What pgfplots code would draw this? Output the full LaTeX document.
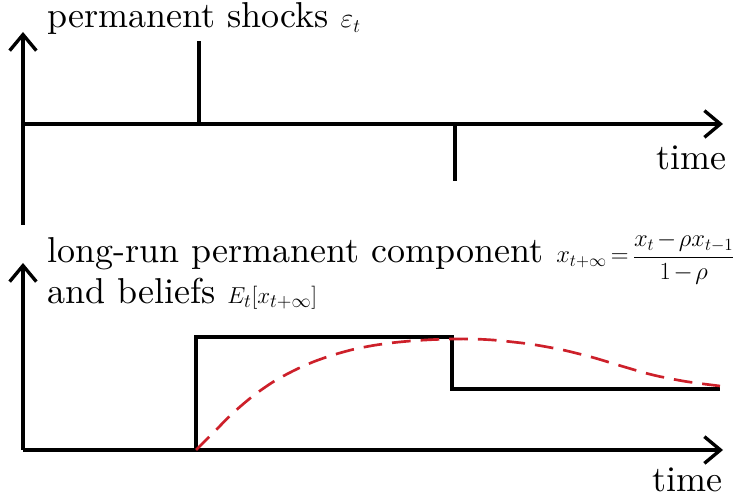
\documentclass[border=0pt]{standalone}
\usepackage{fontspec}
\setmainfont{lmroman10-regular.otf}[ItalicFont=lmroman10-italic.otf,BoldFont=lmroman10-bold.otf]
\usepackage{graphicx}
\usepackage{pgfplots}
\pgfplotsset{compat=1.18}
\usetikzlibrary{arrows.meta}
\definecolor{dred}{RGB}{205,32,42}
\pgfplotstableread{
x y
176 0
176 83
}\spikeup
\pgfplotstableread{
x y
432 0
432 -57
}\spikedown
\pgfplotstableread{
x y
173 0
173 113
429 113
429 61
697 61
}\steptab
\pgfplotstableread{
x y
173 0
190 17
210 37
230 54
250 68
270 79
290 88
310 95
330 100.5
350 104.5
370 107.3
390 109.2
410 110.4
430 111
450 111
470 110
490 108
510 105.5
540 100
570 92.5
600 83.5
630 75
663 68.5
697 64
}\belief
\begin{document}
\begin{tikzpicture}
\useasboundingbox (0,0) rectangle (558pt,378pt);
\tikzset{axarrow/.style={line width=2.5pt, line cap=butt,
    -{Straight Barb[length=12pt,width=20pt]}}}
\pgfplotsset{myaxis/.style={x=0.75pt, y=0.75pt, xmin=0, xmax=700,
  xtick=\empty, ytick=\empty, clip=false,
  axis line style={axarrow},
  every inner x axis line/.append style={axarrow},
  every inner y axis line/.append style={axarrow},
  every outer x axis line/.append style={axarrow},
  every outer y axis line/.append style={axarrow}}}
\begin{axis}[axis lines=middle, myaxis, at={(17.25pt,285pt)}, anchor=origin,
  ymin=-101, ymax=92]
\addplot[black, line width=2.5pt] table {\spikeup};
\addplot[black, line width=2.5pt] table {\spikedown};
\end{axis}
\begin{axis}[axis lines=left, myaxis, at={(17.25pt,40.5pt)}, anchor=origin,
  ymin=0, ymax=187]
\addplot[black, line width=2.5pt, line join=miter] table {\steptab};
\addplot[dred, line width=2pt, smooth, dash pattern=on 14pt off 7.5pt] table {\belief};
\end{axis}
\node[anchor=base west, inner sep=0pt, font=\fontsize{27}{30}\selectfont] at (35.25pt,357pt)
  {permanent shocks {\fontsize{21}{24}\selectfont$\varepsilon_t$}};
\node[anchor=base east, inner sep=0pt, font=\fontsize{27}{30}\selectfont] at (545pt,250.5pt) {time};
\node[anchor=base east, inner sep=0pt, font=\fontsize{27}{30}\selectfont] at (542pt,9pt) {time};
\node[anchor=base west, inner sep=0pt, font=\fontsize{27}{30}\selectfont] at (35.25pt,180.75pt)
  {long-run permanent component};
\node[anchor=base west, inner sep=0pt, font=\fontsize{20.74}{24}\selectfont] at (417pt,180.75pt)
  {\scalebox{0.89}{\medmuskip=2mu\thickmuskip=3mu$\displaystyle x_{t+\infty}=\frac{x_t-\rho x_{t-1}}{1-\rho}$}};
\node[anchor=base west, inner sep=0pt, font=\fontsize{27}{30}\selectfont] at (35.25pt,150pt)
  {and beliefs {\fontsize{19}{22}\selectfont$E_t[x_{t+\infty}]$}};
\end{tikzpicture}
\end{document}
